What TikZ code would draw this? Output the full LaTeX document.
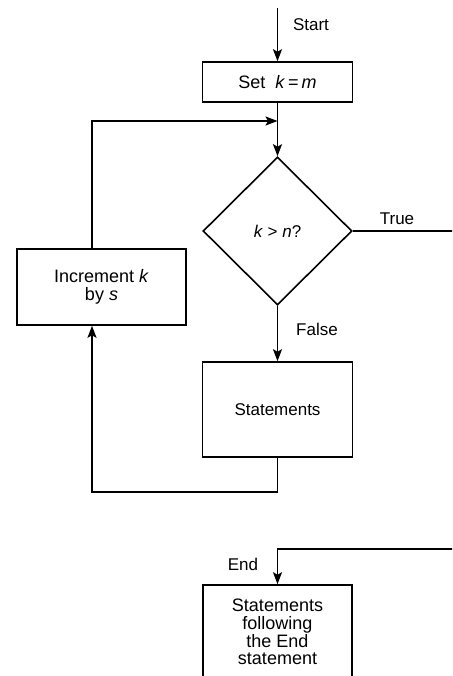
\documentclass[tikz,border=0pt]{standalone}
\usepackage{fontspec}
\setmainfont{Liberation Sans}
\usetikzlibrary{shapes.geometric,arrows.meta}
\begin{document}
\begin{tikzpicture}[x=1pt,y=-1pt,
  line width=1.6pt,
  arr/.style={-{Stealth[length=12pt,width=9pt,inset=2.5pt]}},
  box/.style={draw,rectangle,inner sep=0pt,align=center,font=\fontsize{18}{17.7}\selectfont},
  lbl/.style={font=\fontsize{17}{20}\selectfont,inner sep=0pt}]
\useasboundingbox (0,0) rectangle (452,676);
\clip (0,0) rectangle (452,676);
\node[box,minimum width=150pt,minimum height=40pt] (set) at (277.5,82) {Set\ \ \textit{k}\,=\,\textit{m}};
\node[draw,diamond,minimum width=149pt,minimum height=148pt,inner sep=0pt,font=\fontsize{17}{20}\selectfont] (dec) at (277.5,231) {\textit{k} > \textit{n}?};
\node[box,minimum width=169pt,minimum height=76pt] (inc) at (101.5,287) {Increment \textit{k}\\by \textit{s}};
\node[box,minimum width=150pt,minimum height=95pt,font=\fontsize{17}{20}\selectfont] (stm) at (277.5,409.5) {Statements};
\node[box,minimum width=149pt,minimum height=94pt] (fin) at (277.5,632) {Statements\\following\\the End\\statement};
\coordinate (s0) at (277.5,8);
\coordinate (L) at (92,121);
\coordinate (J) at (277.5,121);
\coordinate (B) at (92,492);
\coordinate (T) at (460,231);
\coordinate (E) at (460,549);
\draw[arr] (s0) -- (set);
\draw[arr] (set) -- (dec);
\draw[arr] (inc.north -| L) -- (L) -- (J);
\draw (dec.east) -- (T);
\draw[arr] (dec) -- (stm);
\draw[arr] (stm.south) |- (B) -- (inc.south -| B);
\draw[arr] (E) -| (fin.north);
\node[lbl] (start) at (311,25) {Start};
\node[lbl] (true) at (397,219) {True};
\node[lbl] (false) at (317,329) {False};
\node[lbl] (end) at (243,564) {End};
\end{tikzpicture}
\end{document}
